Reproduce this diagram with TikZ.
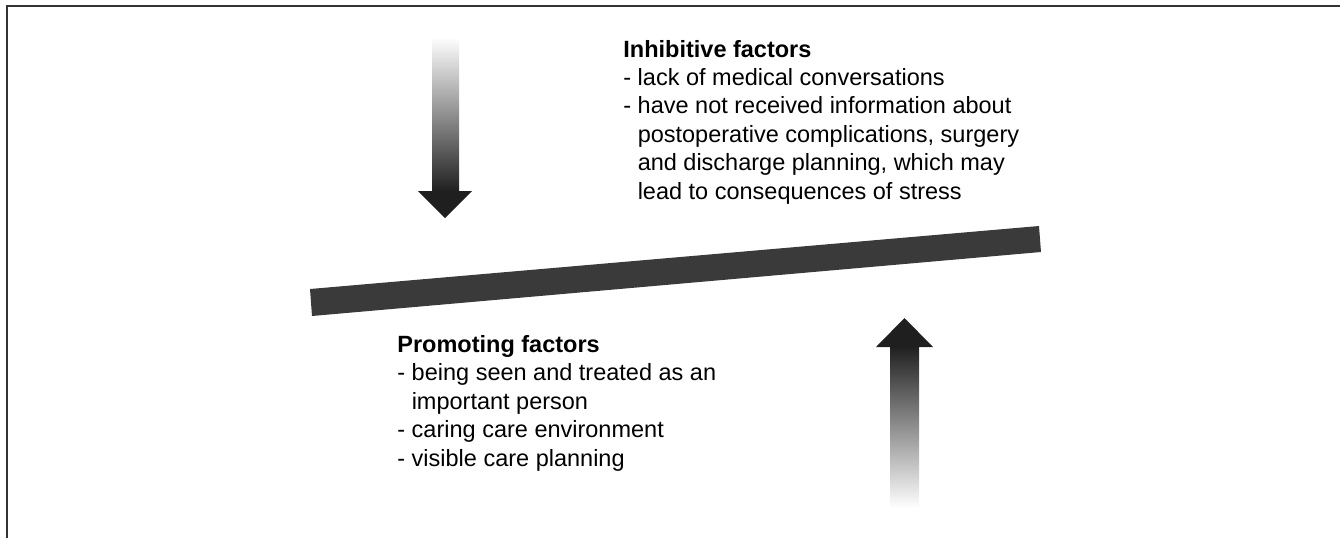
\documentclass[tikz,border=0pt]{standalone}
\usepackage{fontspec}
\setmainfont{Liberation Sans}
\definecolor{bardark}{HTML}{3A3A3A}
\definecolor{arrowdark}{HTML}{1F1F1F}
\definecolor{framegray}{HTML}{333333}
\tikzset{
  factortext/.style={anchor=base west, align=left, inner sep=0pt,
    font=\fontsize{11.75}{14.2}\selectfont},
  shaftshade/.style={shading=axis},
  headfill/.style={fill=arrowdark}
}
\newcommand{\ind}{\hphantom{- }}

\begin{document}
\begin{tikzpicture}[x=0.5pt,y=-0.5pt]
  \useasboundingbox (0,0) rectangle (1340,538);

  % frame (top and left edge only)
  \draw[framegray,line width=1pt] (7,538) -- (7,5.5) -- (1340,5.5);

  % down arrow: inhibitive factors press on the beam
  \shade[shaftshade,top color=white,bottom color=arrowdark]
        (432,37) rectangle (459,192);
  \fill[headfill] (418,191) -- (472,191) -- (445,218) -- cycle;

  % up arrow: promoting factors lift the beam
  \shade[shaftshade,top color=arrowdark,bottom color=white]
        (890,346) rectangle (919,508);
  \fill[headfill] (876,347) -- (933,347) -- (904.5,318) -- cycle;

  % tilted beam
  \fill[bardark] (310,289) -- (312,316) -- (1041,252) -- (1039,226) -- cycle;

  % labels (base anchor sits on the last line)
  \node[factortext] (inhib) at (623,199) {\textbf{Inhibitive factors}\\
    - lack of medical conversations\\
    - have not received information about\\
    \ind postoperative complications, surgery\\
    \ind and discharge planning, which may\\
    \ind lead to consequences of stress};
  \node[factortext] (promo) at (397,466) {\textbf{Promoting factors}\\
    - being seen and treated as an\\
    \ind important person\\
    - caring care environment\\
    - visible care planning};
\end{tikzpicture}
\end{document}
